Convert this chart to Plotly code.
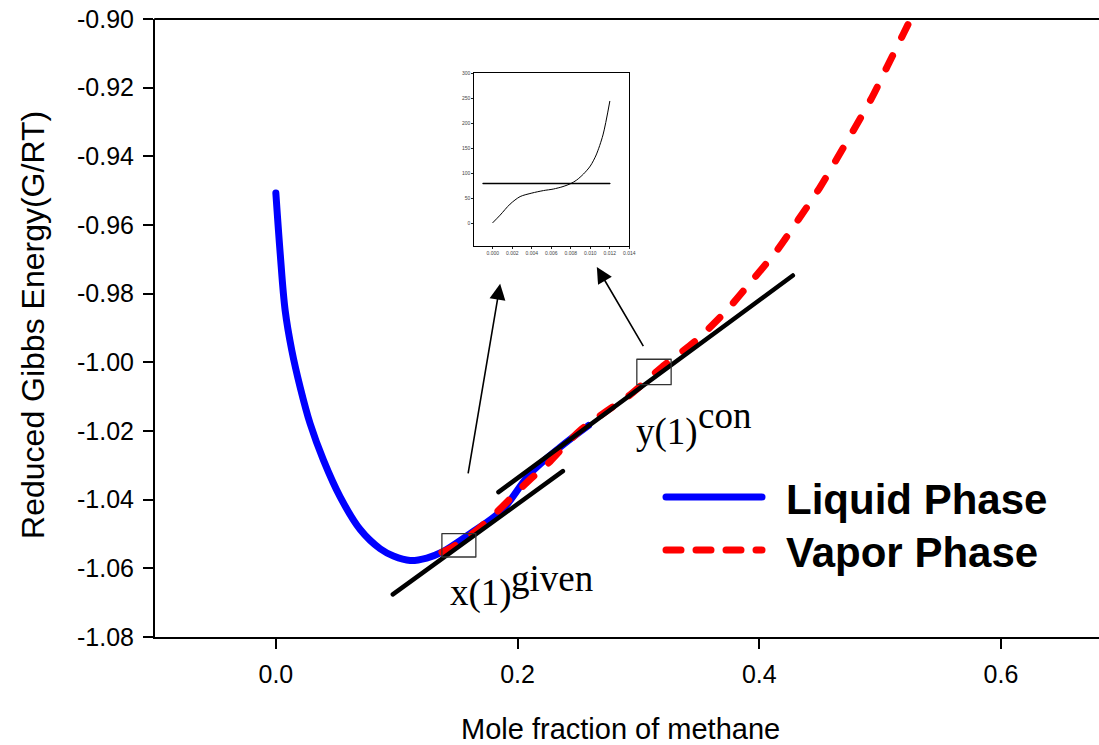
import plotly.graph_objects as go

# Reduced Gibbs energy of the liquid branch vs. methane mole fraction
liquid_x = [0.0, 0.0036, 0.0077, 0.0132, 0.0201, 0.0284, 0.0394, 0.0532, 0.0698,
            0.0863, 0.0973, 0.1111, 0.1249, 0.1374, 0.1608, 0.1870, 0.2104,
            0.2353, 0.2587]
liquid_y = [-0.9507, -0.9683, -0.9849, -0.9965, -1.0072, -1.0179, -1.0285, -1.0392,
            -1.0487, -1.0543, -1.0564, -1.0577, -1.0570, -1.0553, -1.0499, -1.0431,
            -1.0324, -1.0247, -1.0184]

# Vapor branch
vapor_x = [0.1374, 0.1436, 0.1608, 0.1773, 0.1961, 0.2104, 0.2237, 0.2377, 0.2518,
           0.2725, 0.2937, 0.3194, 0.3471, 0.3724, 0.3947, 0.4151, 0.4324, 0.4496,
           0.4647, 0.4794, 0.4932, 0.5061, 0.5193, 0.5260]
vapor_y = [-1.0553, -1.0543, -1.0504, -1.0455, -1.0390, -1.0341, -1.0300, -1.0248,
           -1.0198, -1.0145, -1.0093, -1.0014, -0.9938, -0.9851, -0.9759, -0.9672,
           -0.9584, -0.9494, -0.9404, -0.9315, -0.9229, -0.9137, -0.9043, -0.8995]

# Tangent lines (end points)
tangent_given_x = [0.0968, 0.2375]
tangent_given_y = [-1.0676, -1.0317]
tangent_con_x = [0.1842, 0.4278]
tangent_con_y = [-1.0378, -0.9747]

# Marked compositions: x(1) given and y(1) con
box_x0 = [0.1374, 0.2987]
box_x1 = [0.1655, 0.3271]
box_y0 = [-1.0567, -1.0065]
box_y1 = [-1.0499, -0.9991]

# Arrows from the marked points to the inset (tail -> tip)
arrow_tail_x = [0.1589, 0.3048]
arrow_tail_y = [-1.0328, -0.9957]
arrow_tip_x = [0.1856, 0.2656]
arrow_tip_y = [-0.9771, -0.9722]

# Inset: close-up function and its reference level
inset_x = [0.0, 0.00075, 0.00177, 0.0028, 0.004, 0.0052, 0.0062, 0.0072, 0.008,
           0.0086, 0.0093, 0.010, 0.0106, 0.0113, 0.012]
inset_y = [2, 17, 39, 54, 61, 66, 69, 74, 80, 87, 99, 115, 137, 177, 244]
inset_level_x = [-0.001, 0.012]
inset_level_y = [80, 80]

# Axis ticks
x_ticks = [0.0, 0.2, 0.4, 0.6]
x_tick_text = ["0.0", "0.2", "0.4", "0.6"]
y_ticks = [-1.08, -1.06, -1.04, -1.02, -1.00, -0.98, -0.96, -0.94, -0.92, -0.90]
y_tick_text = ["-1.08", "-1.06", "-1.04", "-1.02", "-1.00", "-0.98", "-0.96",
               "-0.94", "-0.92", "-0.90"]
inset_x_ticks = [0.000, 0.002, 0.004, 0.006, 0.008, 0.010, 0.012, 0.014]
inset_x_text = ["0.000", "0.002", "0.004", "0.006", "0.008", "0.010", "0.012", "0.014"]
inset_y_ticks = [0, 50, 100, 150, 200, 250, 300]

series_names = ["Liquid Phase", "Vapor Phase"]

W, H = 1099, 745
ML, MR, MT, MB = 155, 0, 19, 108
FONT = "Liberation Sans, Arial, sans-serif"
SERIF = "Liberation Serif, Times New Roman, serif"

fig = go.Figure()

fig.add_trace(go.Scatter(
    x=liquid_x, y=liquid_y, mode="lines", name=series_names[0],
    line=dict(color="#0000ff", width=7, shape="spline", smoothing=1.0),
    showlegend=False, hoverinfo="skip"))
fig.add_trace(go.Scatter(
    x=vapor_x, y=vapor_y, mode="lines", name=series_names[1],
    line=dict(color="#ff0000", width=7, dash="15px,20px", shape="spline", smoothing=0.8),
    showlegend=False, hoverinfo="skip"))
for tx, ty in [(tangent_given_x, tangent_given_y), (tangent_con_x, tangent_con_y)]:
    fig.add_trace(go.Scatter(
        x=tx, y=ty, mode="lines", line=dict(color="black", width=4.5),
        showlegend=False, hoverinfo="skip"))

# inset traces
fig.add_trace(go.Scatter(
    x=inset_x, y=inset_y, mode="lines", xaxis="x2", yaxis="y2",
    line=dict(color="black", width=1, shape="spline", smoothing=0.8),
    showlegend=False, hoverinfo="skip"))
fig.add_trace(go.Scatter(
    x=inset_level_x, y=inset_level_y, mode="lines", xaxis="x2", yaxis="y2",
    line=dict(color="black", width=1.5),
    showlegend=False, hoverinfo="skip"))

shapes = []
# frame line along the top of the plot area
shapes.append(dict(type="line", xref="paper", yref="paper", x0=0, x1=1, y0=1, y1=1,
                   line=dict(color="black", width=2)))
for i in range(len(box_x0)):
    shapes.append(dict(type="rect", xref="x", yref="y",
                       x0=box_x0[i], x1=box_x1[i], y0=box_y0[i], y1=box_y1[i],
                       line=dict(color="#333333", width=1.3)))

plot_w = W - ML - MR
plot_h = H - MT - MB


def px_x(p):
    return (p - ML) / plot_w


def px_y(p):
    return (H - MB - p) / plot_h


# hand-placed legend: line samples and bold labels
legend_rows = [(series_names[0], "#0000ff", "solid", 497),
               (series_names[1], "#ff0000", "15px,15px", 550)]
annotations = []
for name, color, dash, yy in legend_rows:
    shapes.append(dict(type="line", xref="paper", yref="paper",
                       x0=px_x(666), x1=px_x(762), y0=px_y(yy), y1=px_y(yy),
                       line=dict(color=color, width=7, dash=dash)))
    annotations.append(dict(xref="paper", yref="paper", x=px_x(784), y=px_y(yy + 2),
                            xanchor="left", yanchor="middle", showarrow=False,
                            text="<b>" + name + "</b>",
                            font=dict(family=FONT, size=42, color="black")))

for i in range(len(arrow_tip_x)):
    annotations.append(dict(x=arrow_tip_x[i], y=arrow_tip_y[i], xref="x", yref="y",
                            ax=arrow_tail_x[i], ay=arrow_tail_y[i], axref="x", ayref="y",
                            text="", showarrow=True, arrowhead=2, arrowsize=2,
                            arrowwidth=1.6, arrowcolor="black"))

# point labels x(1)^given and y(1)^con
labels = [("x(1)", 0.1426, -1.0673), ("given", 0.1926, -1.0629),
          ("y(1)", 0.2962, -1.0202), ("con", 0.3474, -1.0154)]
for txt, lx, ly in labels:
    annotations.append(dict(x=lx, y=ly, xref="x", yref="y", xanchor="left",
                            yanchor="middle", showarrow=False, text=txt,
                            font=dict(family=SERIF, size=37, color="black")))

# axis titles
annotations.append(dict(xref="paper", yref="paper", x=px_x(33), y=0.505,
                        xanchor="center", yanchor="middle", showarrow=False,
                        textangle=-90, text="Reduced Gibbs Energy(G/RT)",
                        font=dict(family=FONT, size=32, color="black")))
annotations.append(dict(xref="paper", yref="paper", x=px_x(620), y=px_y(729),
                        xanchor="center", yanchor="middle", showarrow=False,
                        text="Mole fraction of methane",
                        font=dict(family=FONT, size=29, color="black")))

axis_common = dict(showgrid=False, zeroline=False, automargin=False)

fig.update_layout(
    template="none",
    width=W, height=H,
    margin=dict(l=ML, r=MR, t=MT, b=MB, pad=0, autoexpand=False),
    paper_bgcolor="white", plot_bgcolor="rgba(0,0,0,0)",
    showlegend=False,
    shapes=shapes, annotations=annotations,
    xaxis=dict(range=[-0.1, -0.1 + plot_w / 1208.5], tickvals=x_ticks,
               ticktext=x_tick_text, ticks="outside", ticklen=10, tickwidth=2,
               tickcolor="black", showline=True, linewidth=2, linecolor="black",
               ticklabelstandoff=4, **axis_common,
               tickfont=dict(family=FONT, size=25, color="black")),
    yaxis=dict(range=[-1.08, -0.90], tickvals=y_ticks, ticktext=y_tick_text,
               ticks="outside", ticklen=10, tickwidth=2, tickcolor="black",
               showline=True, linewidth=2, linecolor="black",
               ticklabelstandoff=4, **axis_common,
               tickfont=dict(family=FONT, size=25, color="black")),
    xaxis2=dict(domain=[px_x(474.3), px_x(629.3)], anchor="y2",
                range=[-0.0019, 0.014], tickvals=inset_x_ticks, ticktext=inset_x_text,
                ticks="outside", ticklen=2, tickwidth=0.7, tickcolor="#222",
                showline=True, mirror=True, linewidth=1, linecolor="black",
                **axis_common,
                tickfont=dict(family=FONT, size=5, color="#444")),
    yaxis2=dict(domain=[px_y(245.7), px_y(73.3)], anchor="x2",
                range=[-44, 300], tickvals=inset_y_ticks,
                ticks="outside", ticklen=2, tickwidth=0.7, tickcolor="#222",
                showline=True, mirror=True, linewidth=1, linecolor="black",
                **axis_common,
                tickfont=dict(family=FONT, size=5, color="#444")),
)

page_js = """
document.documentElement.style.overflow = 'hidden';
document.body.style.margin = '0';
document.body.style.overflow = 'hidden';
var gd = document.getElementById('{plot_id}');
function roundCaps() {
  gd.querySelectorAll('.scatterlayer path.js-line, .shapelayer path').forEach(function (p) {
    p.style.strokeLinecap = 'round';
    p.style.strokeLinejoin = 'round';
  });
}
roundCaps();
gd.on('plotly_afterplot', roundCaps);
"""

fig.write_html("out.html", post_script=page_js, config={"displayModeBar": False})
